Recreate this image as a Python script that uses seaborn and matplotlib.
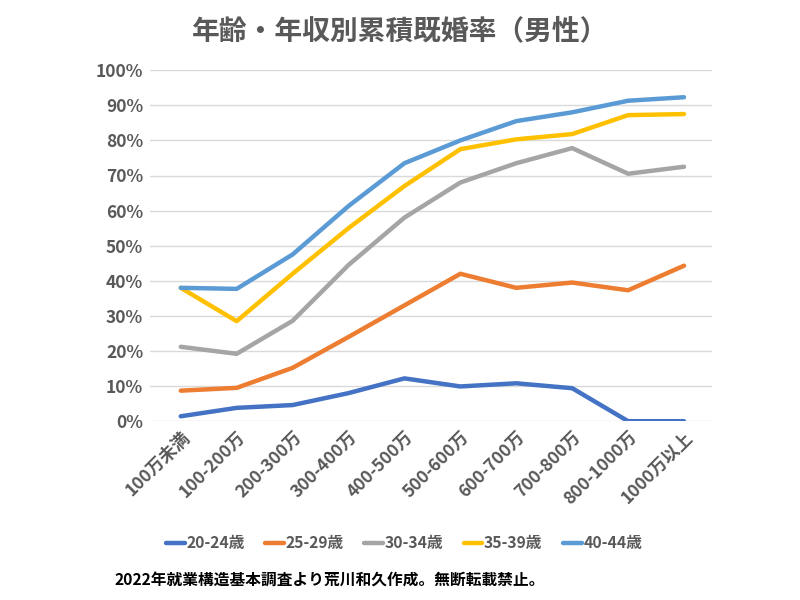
import pandas as pd
import matplotlib
matplotlib.use("Agg")
import matplotlib.pyplot as plt
import seaborn as sns

incomes = ["100万未満", "100-200万", "200-300万", "300-400万", "400-500万",
           "500-600万", "600-700万", "700-800万", "800-1000万", "1000万以上"]
age_groups = ["20-24歳", "25-29歳", "30-34歳", "35-39歳", "40-44歳"]

age_20_24 = [1.4, 3.8, 4.6, 8.0, 12.2, 9.9, 10.8, 9.4, 0.0, 0.0]
age_25_29 = [8.7, 9.5, 15.2, 24.0, 33.0, 42.0, 38.0, 39.5, 37.3, 44.3]
age_30_34 = [21.2, 19.2, 28.6, 44.5, 58.0, 68.0, 73.5, 77.8, 70.5, 72.5]
age_35_39 = [38.0, 28.5, 42.0, 55.0, 67.0, 77.5, 80.3, 81.8, 87.2, 87.5]
age_40_44 = [38.0, 37.7, 47.5, 61.3, 73.5, 80.0, 85.5, 88.0, 91.3, 92.3]

colors = ["#4472C4", "#ED7D31", "#A5A5A5", "#FFC000", "#5B9BD5"]

series = [age_20_24, age_25_29, age_30_34, age_35_39, age_40_44]
rows = []
for age, vals in zip(age_groups, series):
    for i, v in enumerate(vals):
        rows.append({"idx": i, "rate": v / 100, "age": age})
df = pd.DataFrame(rows)

sns.set_theme(style="white")
plt.rcParams["font.family"] = ["Noto Sans CJK JP", "DejaVu Sans"]

fig = plt.figure(figsize=(8, 6), dpi=100)
ax = fig.add_axes([0.1875, 0.298, 0.7025, 0.585])

sns.lineplot(data=df, x="idx", y="rate", hue="age", hue_order=age_groups,
             palette=colors, linewidth=3.2, ax=ax, legend=True)

ax.set_xlim(-0.55, 9.5)
ax.set_ylim(0, 1)
ax.set_yticks([i / 10 for i in range(11)])
ax.set_yticklabels([f"{i * 10}%" for i in range(11)])
ax.set_xticks(range(len(incomes)))
ax.set_xticklabels(incomes, rotation=45, ha="right", rotation_mode="anchor")
ax.grid(axis="y", color="#D9D9D9", linewidth=1)
ax.set_axisbelow(True)
for s in ax.spines.values():
    s.set_visible(False)
ax.tick_params(axis="both", length=0, labelsize=12.5, labelcolor="#595959", pad=5)
for lab in ax.get_xticklabels() + ax.get_yticklabels():
    lab.set_fontweight("bold")
ax.set_xlabel("")
ax.set_ylabel("")

handles, labels = ax.get_legend_handles_labels()
ax.get_legend().remove()
leg = fig.legend(handles, labels, loc="center", bbox_to_anchor=(0.505, 0.095),
                 ncol=5, frameon=False, handlelength=1.2, handletextpad=0.1,
                 columnspacing=1.3, prop={"weight": "bold", "size": 11.3})
for t in leg.get_texts():
    t.set_color("#595959")

fig.text(0.5, 0.948, "年齢・年収別累積既婚率（男性）", ha="center", va="center",
         fontsize=20, fontweight="bold", color="#595959")
fig.text(0.143, 0.033, "2022年就業構造基本調査より荒川和久作成。無断転載禁止。",
         ha="left", va="center", fontsize=11.3, fontweight="bold", color="black")

fig.savefig("out.png", dpi=100)
